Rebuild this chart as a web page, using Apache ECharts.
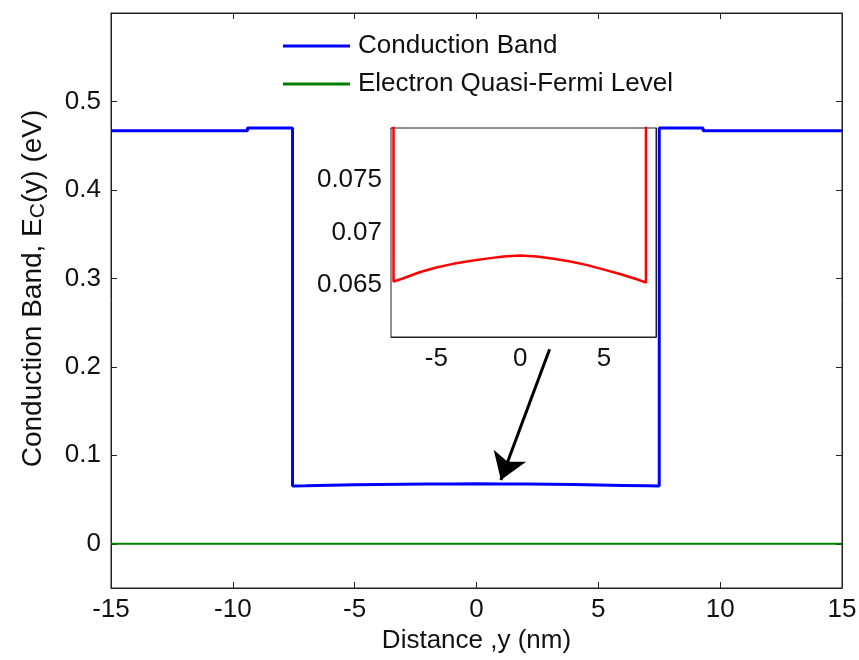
<!DOCTYPE html>
<html>
<head>
<meta charset="utf-8">
<title>Conduction Band Profile</title>
<script src="https://cdn.jsdelivr.net/npm/echarts@6/dist/echarts.min.js"></script>
<style>
  html, body { margin: 0; padding: 0; background: #fff; }
  #chart { width: 859px; height: 660px; }
</style>
</head>
<body>
<div id="chart"></div>
<script>
// Conduction band profile along the channel (nm, eV)
const positionNm = [-15, -9.4, -9.4, -7.55, -7.55, -7, -6, -5, -4, -3, -2, -1, 0,
  1, 2, 3, 4, 5, 6, 7, 7.5, 7.5, 9.3, 9.3, 15];
const conductionBand = [0.467, 0.467, 0.470, 0.470, 0.0653, 0.0656, 0.0662, 0.06665, 0.0670, 0.06728, 0.0675, 0.0677, 0.0678,
  0.0677, 0.06748, 0.06722, 0.06688, 0.06645, 0.0660, 0.0655, 0.0652, 0.470, 0.470, 0.467, 0.467];

// Electron quasi-Fermi level
const fermiPositionNm = [-15, 15];
const quasiFermi = [0, 0];

// Tick labels
const mainXTicks = [-15, -10, -5, 0, 5, 10, 15];
const mainYTicks = [0, 0.1, 0.2, 0.3, 0.4, 0.5];
const insetXTicks = [-5, 0, 5];
const insetYTicks = [0.065, 0.07, 0.075];

// Pointer from the inset to the well bottom (data coordinates)
const pointerFrom = [3, 0.22];
const pointerTo = [1, 0.072];

const FONT = '"Liberation Sans", Arial, sans-serif';
const FS = 26;
const INK = '#222';
const TEXT = '#111';

const pair = (xs, ys) => xs.map((x, i) => [x, ys[i]]);

function frameAxis(base) {
  return Object.assign({
    type: 'value',
    axisLine: { show: true, onZero: false, lineStyle: { color: INK, width: 1 } },
    splitLine: { show: false },
    axisLabel: { show: false },
    axisTick: { show: true, inside: true, length: 6, lineStyle: { color: INK } }
  }, base);
}

function ticks(values, len) {
  return { show: true, inside: true, length: len, lineStyle: { color: INK }, customValues: values };
}

function labels(values, margin) {
  return { show: true, fontFamily: FONT, fontSize: FS, color: TEXT, margin: margin, customValues: values };
}

const chart = echarts.init(document.getElementById('chart'), null, { renderer: 'canvas' });

chart.setOption({
  backgroundColor: '#fff',
  animation: false,
  textStyle: { fontFamily: FONT },
  grid: [
    { left: 111, top: 13, width: 731, height: 575, containLabel: false, outerBoundsMode: 'none',
      show: true, borderColor: INK, borderWidth: 1, backgroundColor: 'transparent' },
    { left: 391, top: 128, width: 265, height: 209, containLabel: false, outerBoundsMode: 'none',
      show: true, backgroundColor: '#fff', borderColor: INK, borderWidth: 1, z: 5 }
  ],
  legend: {
    orient: 'vertical',
    left: 278,
    top: 26,
    itemWidth: 67,
    itemHeight: 3,
    itemGap: 8,
    icon: 'rect',
    data: ['Conduction Band', 'Electron Quasi-Fermi Level'],
    textStyle: { fontFamily: FONT, fontSize: FS, color: TEXT, lineHeight: 30, padding: [0, 0, 0, 3] }
  },
  xAxis: [
    frameAxis({
      gridIndex: 0, position: 'bottom', min: -15, max: 15, interval: 5,
      axisLabel: labels(mainXTicks, 9),
      axisTick: ticks(mainXTicks, 6),
      name: 'Distance ,y (nm)', nameLocation: 'middle', nameGap: 32,
      nameTextStyle: { fontFamily: FONT, fontSize: FS, color: TEXT, verticalAlign: 'top' }
    }),
    frameAxis({
      gridIndex: 0, position: 'top', min: -15, max: 15, interval: 5,
      axisTick: ticks(mainXTicks, 6)
    }),
    frameAxis({
      gridIndex: 1, position: 'bottom', min: -7.7, max: 8.1,
      axisLabel: labels(insetXTicks, 9),
      axisTick: ticks(insetXTicks, 4)
    }),
    frameAxis({
      gridIndex: 1, position: 'top', min: -7.7, max: 8.1,
      axisTick: ticks(insetXTicks, 4)
    })
  ],
  yAxis: [
    frameAxis({
      gridIndex: 0, position: 'left', min: -0.05, max: 0.6,
      axisLabel: labels(mainYTicks, 10),
      axisTick: ticks(mainYTicks, 6),
      name: '{a|Conduction Band, E}{s|C}{a|(y) (eV)}',
      nameLocation: 'middle', nameGap: 62,
      nameTextStyle: {
        fontFamily: FONT, color: TEXT,
        padding: [0, 0, 0, 24],
        rich: {
          a: { fontFamily: FONT, fontSize: 28, color: TEXT, verticalAlign: 'top', lineHeight: 30 },
          s: { fontFamily: FONT, fontSize: 21, color: TEXT, verticalAlign: 'bottom', lineHeight: 22, padding: [18, 0, 0, 0] }
        }
      }
    }),
    frameAxis({
      gridIndex: 0, position: 'right', min: -0.05, max: 0.6,
      axisTick: ticks(mainYTicks, 6)
    }),
    frameAxis({
      gridIndex: 1, position: 'left', min: 0.06, max: 0.08,
      axisLabel: labels(insetYTicks, 9),
      axisTick: ticks(insetYTicks, 4)
    }),
    frameAxis({
      gridIndex: 1, position: 'right', min: 0.06, max: 0.08,
      axisTick: ticks(insetYTicks, 4)
    })
  ],
  series: [
    {
      name: 'Conduction Band',
      type: 'line',
      xAxisIndex: 0, yAxisIndex: 0,
      data: pair(positionNm, conductionBand),
      showSymbol: false, symbol: 'none',
      lineStyle: { color: '#0000ff', width: 3 },
      itemStyle: { color: '#0000ff' },
      z: 3
    },
    {
      name: 'Electron Quasi-Fermi Level',
      type: 'line',
      xAxisIndex: 0, yAxisIndex: 0,
      data: pair(fermiPositionNm, quasiFermi),
      showSymbol: false, symbol: 'none',
      lineStyle: { color: '#008000', width: 2 },
      itemStyle: { color: '#008000' },
      z: 3
    },
    {
      name: 'Conduction Band (well)',
      type: 'line',
      xAxisIndex: 2, yAxisIndex: 2,
      data: pair(positionNm, conductionBand),
      showSymbol: false, symbol: 'none',
      clip: true,
      lineStyle: { color: '#ff0000', width: 2.5 },
      itemStyle: { color: '#ff0000' },
      z: 6
    },
    {
      type: 'lines',
      coordinateSystem: 'cartesian2d',
      xAxisIndex: 0, yAxisIndex: 0,
      symbol: ['none', 'arrow'],
      symbolSize: 26,
      lineStyle: { color: '#000', width: 3, opacity: 1, curveness: 0 },
      data: [{ coords: [pointerFrom, pointerTo] }],
      silent: true,
      z: 7
    }
  ]
});
</script>
</body>
</html>
